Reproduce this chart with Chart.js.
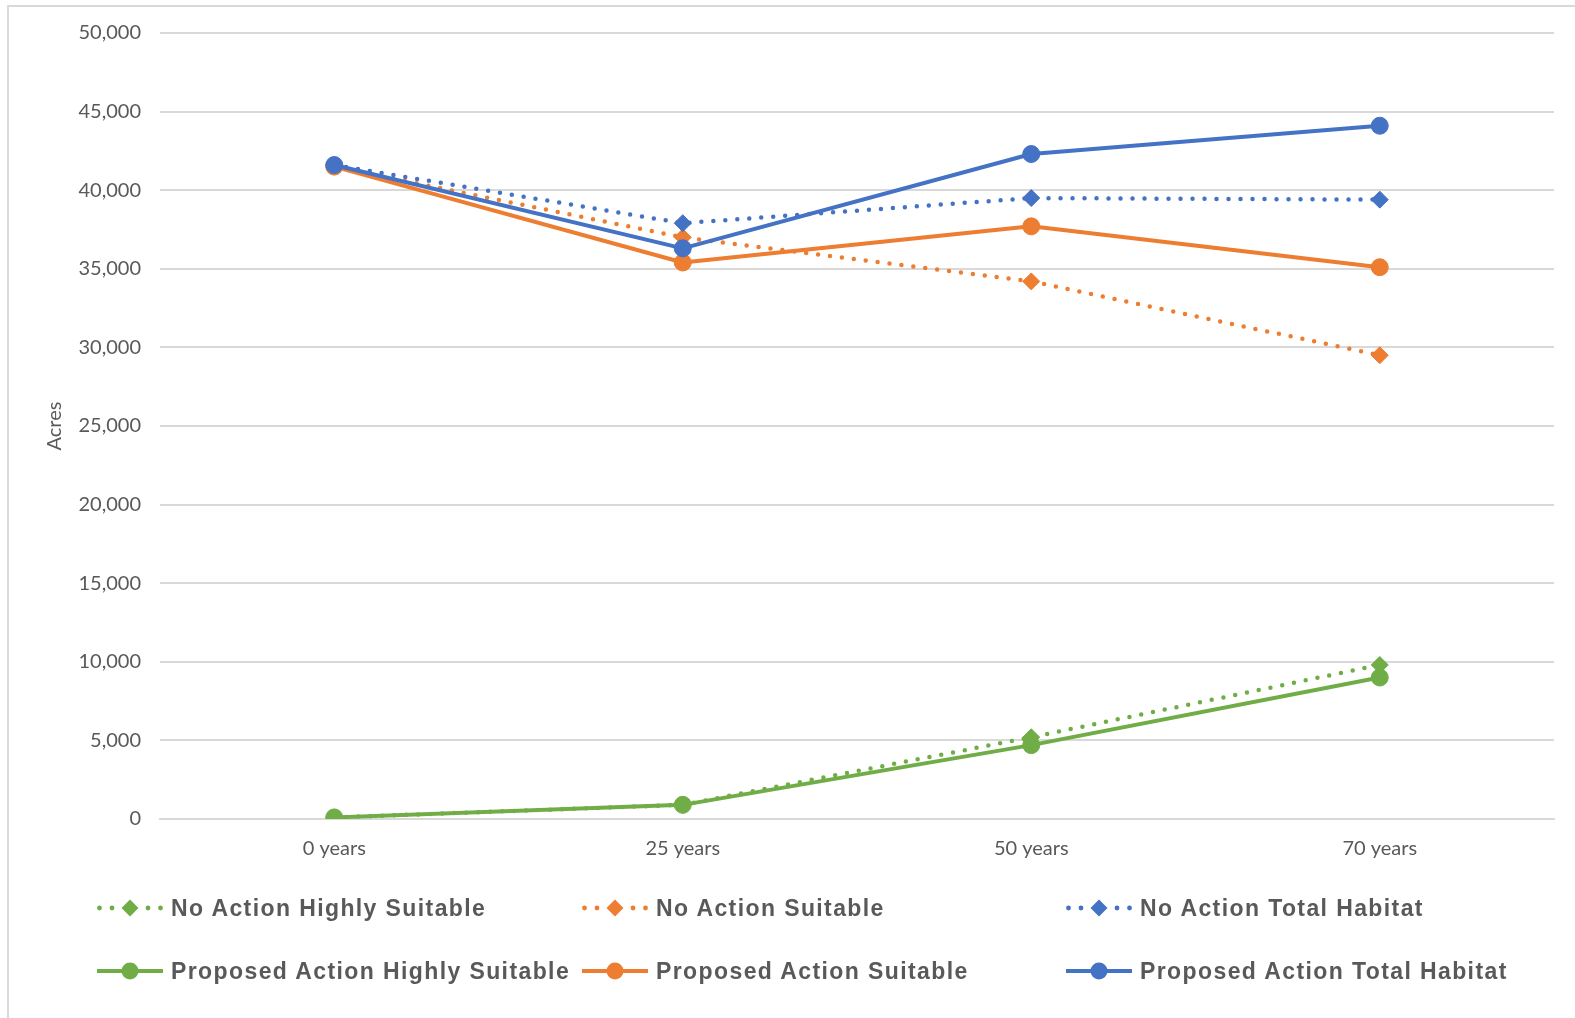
<!DOCTYPE html>
<html>
<head>
<meta charset="utf-8">
<script src="https://cdn.jsdelivr.net/npm/chart.js@4.4.0/dist/chart.umd.min.js"></script>
<style>
  html, body { margin: 0; padding: 0; background: #fff; width: 1575px; height: 1018px; overflow: hidden; }
  #frame { position: absolute; left: 7px; top: 5px; width: 1620px; height: 1100px; border: 2px solid #d9d9d9; box-sizing: border-box; }
  #wrap { position: absolute; left: 0; top: 0; width: 1575px; height: 1018px; }
  .leg { position: absolute; display: flex; align-items: center; height: 24px;
         font: bold 23px "Liberation Sans", Arial, sans-serif; letter-spacing: 1.4px; color: #595959; white-space: nowrap; }
  .leg canvas { margin-right: 8px; }
</style>
</head>
<body>
<div id="frame"></div>
<div id="wrap"><canvas id="c" width="1575" height="1018"></canvas></div>
<div id="legend"></div>
<script>
// Habitat acreage by time horizon
const categories = ['0 years', '25 years', '50 years', '70 years'];

const noActionHighlySuitable   = [100, 900, 5200, 9800];
const noActionSuitable         = [41500, 37000, 34200, 29500];
const noActionTotal            = [41600, 37900, 39500, 39400];
const proposedHighlySuitable   = [100, 900, 4700, 9000];
const proposedSuitable         = [41500, 35400, 37700, 35100];
const proposedTotal            = [41600, 36300, 42300, 44100];

const yTicks = [0, 5000, 10000, 15000, 20000, 25000, 30000, 35000, 40000, 45000, 50000];

const GREEN = '#70AD47', ORANGE = '#ED7D31', BLUE = '#4472C4';
const TEXT = '#595959', GRID = '#d9d9d9';

function dotted(label, data, color, order) {
  return {
    label, data, order,
    borderColor: color, backgroundColor: color,
    borderWidth: 4.5, borderDash: [0, 12], borderCapStyle: 'round',
    pointStyle: 'rectRot', pointRadius: 8.5, pointBorderWidth: 1,
    pointBackgroundColor: color, pointBorderColor: color,
    tension: 0, dotted: true
  };
}
function solid(label, data, color, order) {
  return {
    label, data, order,
    borderColor: color, backgroundColor: color,
    borderWidth: 4, borderCapStyle: 'round', borderJoinStyle: 'round',
    pointStyle: 'circle', pointRadius: 8.5, pointBorderWidth: 1,
    pointBackgroundColor: color, pointBorderColor: color,
    tension: 0, dotted: false
  };
}

const datasets = [
  dotted('No Action Highly Suitable', noActionHighlySuitable, GREEN, 6),
  dotted('No Action Suitable', noActionSuitable, ORANGE, 5),
  dotted('No Action Total Habitat', noActionTotal, BLUE, 4),
  solid('Proposed Action Highly Suitable', proposedHighlySuitable, GREEN, 3),
  solid('Proposed Action Suitable', proposedSuitable, ORANGE, 2),
  solid('Proposed Action Total Habitat', proposedTotal, BLUE, 1)
];

const tickFont = { family: 'Lato, "Liberation Sans", sans-serif', size: 20 };

new Chart(document.getElementById('c'), {
  type: 'line',
  data: { labels: categories, datasets },
  options: {
    responsive: false,
    animation: false,
    devicePixelRatio: 1,
    layout: { padding: { left: 0, right: 21, top: 33, bottom: 149 } },
    plugins: { legend: { display: false }, tooltip: { enabled: false } },
    scales: {
      x: {
        offset: true,
        grid: { display: false, drawTicks: false },
        border: { display: true, color: GRID, width: 2 },
        ticks: { color: TEXT, font: tickFont, padding: 18, maxRotation: 0 },
        afterFit(scale) { scale.height = 50; }
      },
      y: {
        min: 0, max: 50000,
        afterBuildTicks(scale) { scale.ticks = yTicks.map(v => ({ value: v })); },
        grid: { color: GRID, lineWidth: 2, drawTicks: false },
        border: { display: false },
        ticks: {
          color: TEXT, font: tickFont, padding: 19,
          callback: v => v.toLocaleString('en-US')
        },
        title: {
          display: true, text: 'Acres', color: TEXT, font: tickFont,
          padding: { top: 43, bottom: 0 }
        },
        afterFit(scale) { scale.width = 160; }
      }
    }
  }
});

// Legend: two rows of three entries, each with a line sample
const legendCols = [97, 582, 1066];
const legendRows = [908, 971];
const legendEl = document.getElementById('legend');

function drawSample(cv, ds) {
  const ctx = cv.getContext('2d');
  const w = cv.width, h = cv.height, cy = h / 2, cx = w / 2;
  ctx.fillStyle = ds.borderColor;
  ctx.strokeStyle = ds.borderColor;
  if (ds.dotted) {
    [2.5, 15, 51, 63.5].forEach(x => {
      ctx.beginPath(); ctx.arc(x, cy, 2.4, 0, Math.PI * 2); ctx.fill();
    });
    ctx.beginPath();
    ctx.moveTo(cx, cy - 8.5); ctx.lineTo(cx + 8.5, cy); ctx.lineTo(cx, cy + 8.5); ctx.lineTo(cx - 8.5, cy);
    ctx.closePath(); ctx.fill();
  } else {
    ctx.lineWidth = 4;
    ctx.beginPath(); ctx.moveTo(0, cy); ctx.lineTo(w, cy); ctx.stroke();
    ctx.beginPath(); ctx.arc(cx, cy, 8.5, 0, Math.PI * 2); ctx.fill();
  }
}

datasets.forEach((ds, i) => {
  const row = Math.floor(i / 3), col = i % 3;
  const item = document.createElement('div');
  item.className = 'leg';
  item.style.left = legendCols[col] + 'px';
  item.style.top = (legendRows[row] - 12) + 'px';
  const cv = document.createElement('canvas');
  cv.width = 66; cv.height = 20;
  drawSample(cv, ds);
  const span = document.createElement('span');
  span.textContent = ds.label;
  item.appendChild(cv);
  item.appendChild(span);
  legendEl.appendChild(item);
});
</script>
</body>
</html>
